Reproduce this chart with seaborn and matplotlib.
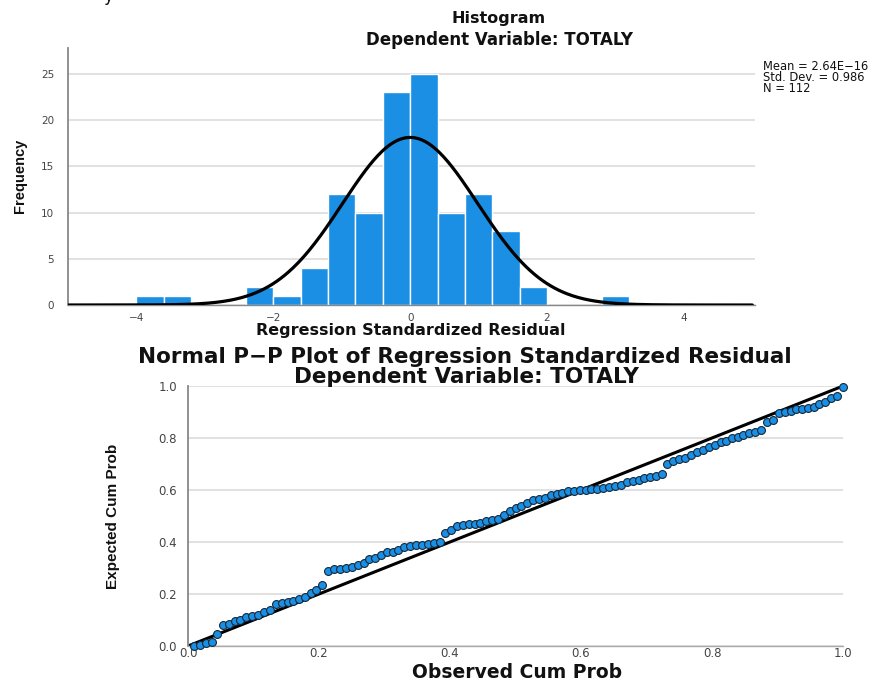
import numpy as np
import pandas as pd
import matplotlib
matplotlib.use("Agg")
import matplotlib.pyplot as plt
import seaborn as sns

sns.set_theme(style="white")
plt.rcParams['font.family'] = ['DejaVu Sans']

# ---------------- data ----------------
bin_left = [-4.0, -3.6, -3.2, -2.8, -2.4, -2.0, -1.6, -1.2, -0.8, -0.4,
            0.0, 0.4, 0.8, 1.2, 1.6, 2.0, 2.4, 2.8]
counts = [1, 1, 0, 0, 2, 1, 4, 12, 10, 23, 25, 10, 12, 8, 2, 0, 0, 1]
bin_width = 0.4
resid_mean = 2.64e-16
resid_sd = 0.986
resid_n = 112

hist_xticks = [-4, -2, 0, 2, 4]
hist_yticks = [0, 5, 10, 15, 20, 25]

obs_cum_prob = [
    .009, .018, .027, .036, .045, .054, .063, .071, .080, .089,
    .098, .107, .116, .125, .134, .143, .152, .161, .170, .179,
    .188, .196, .205, .214, .223, .232, .241, .250, .259, .268,
    .277, .286, .295, .304, .313, .321, .330, .339, .348, .357,
    .366, .375, .384, .393, .402, .411, .420, .429, .438, .446,
    .455, .464, .473, .482, .491, .500, .509, .518, .527, .536,
    .545, .554, .563, .571, .580, .589, .598, .607, .616, .625,
    .634, .643, .652, .661, .670, .679, .688, .696, .705, .714,
    .723, .732, .741, .750, .759, .768, .777, .786, .795, .804,
    .813, .821, .830, .839, .848, .857, .866, .875, .884, .893,
    .902, .911, .920, .929, .938, .946, .955, .964, .973, .982,
    .991, 1.000]
exp_cum_prob = [
    .000, .005, .012, .015, .045, .080, .085, .095, .100, .110,
    .115, .120, .130, .140, .160, .165, .170, .175, .180, .190,
    .205, .215, .235, .290, .295, .297, .300, .303, .310, .320,
    .335, .340, .350, .360, .362, .370, .380, .385, .388, .390,
    .393, .398, .400, .435, .445, .460, .465, .468, .470, .475,
    .480, .485, .490, .505, .520, .530, .540, .550, .560, .565,
    .570, .580, .585, .590, .595, .598, .600, .600, .603, .605,
    .607, .610, .615, .620, .630, .635, .640, .645, .650, .655,
    .660, .700, .710, .720, .725, .735, .745, .755, .765, .775,
    .785, .790, .800, .805, .810, .820, .825, .830, .860, .870,
    .895, .900, .905, .910, .912, .915, .920, .930, .940, .955,
    .960, .998]

pp_ticks = [0.0, 0.2, 0.4, 0.6, 0.8, 1.0]

# ---------------- figure ----------------
W, H = 875, 681
fig = plt.figure(figsize=(W / 100, H / 100), dpi=100)
fig.patch.set_facecolor("white")

def fx(px):
    return px / W

def fy(py):
    return 1 - py / H

bar_color = "#1a8fe3"
grid_color = "#dcdcdc"
tick_color = "#444444"
narrow = ["Liberation Sans", "DejaVu Sans"]

# ---- histogram ----
ax1 = fig.add_axes([fx(68), fy(305), fx(755) - fx(68), fy(48) - fy(305)])
hist_df = pd.DataFrame({"x": [b + bin_width / 2 for b in bin_left], "w": counts})
edges = bin_left + [bin_left[-1] + bin_width]
sns.histplot(data=hist_df, x="x", weights="w", bins=edges, ax=ax1,
             color=bar_color, alpha=1.0, edgecolor="white", linewidth=1.0, zorder=2)
xs = np.linspace(-5, 5, 500)
ys = resid_n * bin_width / (resid_sd * np.sqrt(2 * np.pi)) * np.exp(-0.5 * ((xs - resid_mean) / resid_sd) ** 2)
sns.lineplot(x=xs, y=ys, ax=ax1, color="black", linewidth=2.3, zorder=3)
ax1.set_xlim(-5, 5.04)
ax1.set_ylim(0, 27.8)
ax1.set_xticks(hist_xticks)
ax1.set_xticklabels(["\u22124", "\u22122", "0", "2", "4"])
ax1.set_yticks(hist_yticks)
ax1.yaxis.grid(True, color=grid_color, linewidth=1.2, zorder=0)
ax1.set_axisbelow(True)
ax1.tick_params(axis="both", length=0, labelsize=7.5, colors=tick_color, pad=6)
ax1.tick_params(axis="y", pad=10)
for s in ["top", "right"]:
    ax1.spines[s].set_visible(False)
ax1.spines["left"].set_color("#888888")
ax1.spines["left"].set_linewidth(1.3)
ax1.spines["bottom"].set_color("#888888")
ax1.spines["bottom"].set_linewidth(1.0)
ax1.set_xlabel("")
ax1.set_ylabel("")

fig.text(fx(499), fy(19), "Histogram", ha="center", va="center",
         fontsize=11.5, fontweight="bold", color="#111111")
fig.text(fx(500), fy(40), "Dependent Variable: TOTALY", ha="center", va="center",
         fontsize=12, fontweight="bold", color="#111111")
fig.text(fx(411), fy(331), "Regression Standardized Residual", ha="center", va="center",
         fontsize=11.5, fontweight="bold", color="#111111")
fig.text(fx(20), fy(176), "Frequency", ha="center", va="center", rotation=90,
         fontsize=10.5, fontweight="bold", color="#111111", family=narrow)
fig.text(fx(763), fy(60),
         "Mean = 2.64E\u221216\nStd. Dev. = 0.986\nN = 112",
         ha="left", va="top", fontsize=8.3, linespacing=0.8, color="#111111")
fig.text(fx(103), fy(1), "y", ha="left", va="baseline", fontsize=12, color="#111111")

# ---- P-P plot ----
ax2 = fig.add_axes([fx(188), fy(646), fx(843) - fx(188), fy(386) - fy(646)])
pp_df = pd.DataFrame({"obs": obs_cum_prob, "exp": exp_cum_prob})
ax2.axline((0, 0), slope=1, color="black", linewidth=2.2, zorder=2)
sns.scatterplot(data=pp_df, x="obs", y="exp", ax=ax2, s=32, color=bar_color,
                edgecolor="#14283c", linewidth=0.8, zorder=3, clip_on=False)
ax2.set_xlim(0, 1)
ax2.set_ylim(0, 1)
ax2.set_xticks(pp_ticks)
ax2.set_yticks(pp_ticks)
ax2.set_xticklabels([f"{t:.1f}" for t in pp_ticks])
ax2.set_yticklabels([f"{t:.1f}" for t in pp_ticks])
ax2.yaxis.grid(True, color=grid_color, linewidth=1.2, zorder=0)
ax2.set_axisbelow(True)
ax2.tick_params(axis="both", length=0, labelsize=8.5, colors=tick_color)
ax2.tick_params(axis="x", pad=1)
ax2.tick_params(axis="y", pad=8)
for s in ["top", "right"]:
    ax2.spines[s].set_visible(False)
ax2.spines["left"].set_color("#888888")
ax2.spines["left"].set_linewidth(1.3)
ax2.spines["bottom"].set_color("#aaaaaa")
ax2.spines["bottom"].set_linewidth(1.0)
ax2.set_xlabel("")
ax2.set_ylabel("")

fig.text(fx(465), fy(357), "Normal P\u2212P Plot of Regression Standardized Residual",
         ha="center", va="center", fontsize=15.5, fontweight="bold", color="#111111")
fig.text(fx(466), fy(377), "Dependent Variable: TOTALY", ha="center", va="center",
         fontsize=15.5, fontweight="bold", color="#111111")
fig.text(fx(517), fy(672), "Observed Cum Prob", ha="center", va="center",
         fontsize=13.5, fontweight="bold", color="#111111")
fig.text(fx(113), fy(516), "Expected Cum Prob", ha="center", va="center", rotation=90,
         fontsize=11, fontweight="bold", color="#111111", family=narrow)

fig.savefig("out.png", dpi=100, facecolor="white")
